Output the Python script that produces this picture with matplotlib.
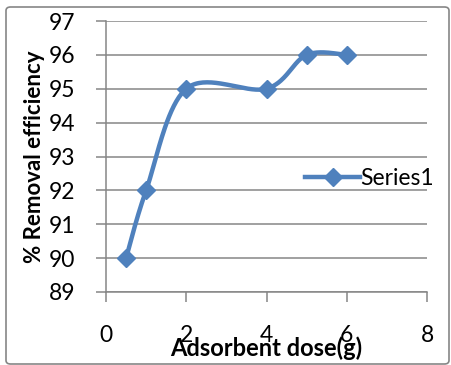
import numpy as np
from matplotlib import pyplot as plt
from matplotlib.patches import FancyBboxPatch

# adsorbent dose (g) vs removal efficiency (%)
dose = [0.5, 1, 2, 4, 5, 6]
removal = [90, 92, 95, 95, 96, 96]
x_ticks = [0, 2, 4, 6, 8]
y_ticks = [89, 90, 91, 92, 93, 94, 95, 96, 97]


def smooth_curve(x, y, n=40):
    # Bezier smoothing through each point, like a spreadsheet "smoothed line"
    x = np.asarray(x, float)
    y = np.asarray(y, float)
    px = np.concatenate([[x[0]], x, [x[-1]]])
    py = np.concatenate([[y[0]], y, [y[-1]]])
    xs, ys = [], []
    t = np.linspace(0, 1, n)
    for i in range(1, len(px) - 2):
        p0 = np.array([px[i], py[i]])
        p3 = np.array([px[i + 1], py[i + 1]])
        p1 = p0 + (np.array([px[i + 1], py[i + 1]]) - np.array([px[i - 1], py[i - 1]])) / 6
        p2 = p3 - (np.array([px[i + 2], py[i + 2]]) - np.array([px[i], py[i]])) / 6
        b = ((1 - t) ** 3)[:, None] * p0 + (3 * (1 - t) ** 2 * t)[:, None] * p1 \
            + (3 * (1 - t) * t ** 2)[:, None] * p2 + (t ** 3)[:, None] * p3
        xs.extend(b[:, 0])
        ys.extend(b[:, 1])
    return xs, ys


plt.rcParams['font.family'] = ['Lato', 'DejaVu Sans']
blue = '#4F81BD'
grey = '#868686'

fig = plt.figure(figsize=(4.52, 3.65), dpi=100)
ax = fig.add_axes([106 / 452, 1 - 292 / 365, (427 - 106) / 452, (292 - 21) / 365])

sx, sy = smooth_curve(dose, removal)
ax.plot(sx, sy, color=blue, lw=3.2, solid_capstyle='round', zorder=3)
ax.plot(dose, removal, ls='none', marker='D', ms=9.5, color=blue, zorder=4)
ax.plot([], [], color=blue, lw=3.2, marker='D', ms=9.5, label='Series1')

ax.set_xlim(0, 8)
ax.set_ylim(89, 97)
ax.set_xticks(x_ticks)
ax.set_yticks(y_ticks)
ax.grid(axis='y', color=grey, lw=1.1)
ax.set_axisbelow(True)
for s in ['top', 'right']:
    ax.spines[s].set_visible(False)
for s in ['left', 'bottom']:
    ax.spines[s].set_color(grey)
    ax.spines[s].set_linewidth(1.1)
ax.tick_params(axis='both', direction='out', length=7, width=1.1, color=grey,
               labelsize=16.5, labelcolor='black')
ax.tick_params(axis='y', pad=15)
ax.tick_params(axis='x', pad=17)

ax.set_xlabel('Adsorbent dose(g)', fontsize=17, fontweight='bold', labelpad=-7)
ax.set_ylabel('% Removal efficiency', fontsize=16, fontweight='bold', labelpad=3)

leg = ax.legend(loc='center left', bbox_to_anchor=(0.585, 0.42), frameon=False,
                fontsize=16.5, handlelength=2.4, handletextpad=0.0, borderpad=0)

# outer chart border
fig.patches.append(FancyBboxPatch((6 / 452, 1 / 365), 443 / 452, 357 / 365,
                                  boxstyle='round,pad=0,rounding_size=0.01',
                                  transform=fig.transFigure, fill=False,
                                  edgecolor=grey, lw=1.2))

fig.savefig('out.png', dpi=100)
